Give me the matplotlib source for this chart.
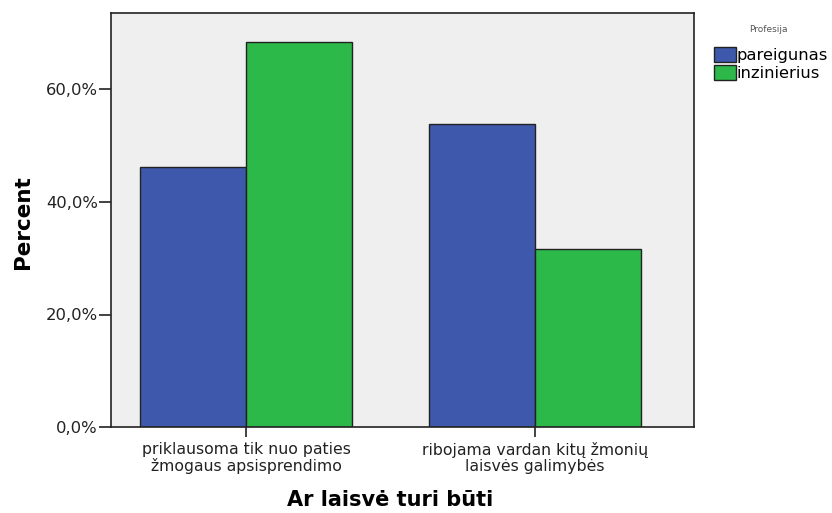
import numpy as np
import matplotlib
matplotlib.use('Agg')
import matplotlib.pyplot as plt
from matplotlib.patches import Patch

# data
categories = ['priklausoma tik nuo paties\nžmogaus apsisprendimo',
              'ribojama vardan kitų žmonių\nlaisvės galimybės']
pareigunas = [46.2, 53.8]
inzinierius = [68.4, 31.6]
yticks = [0, 20, 40, 60]
ytick_labels = ['0,0%', '20,0%', '40,0%', '60,0%']

blue = '#3E58AC'
green = '#2DB84A'
plt.rcParams['font.family'] = 'DejaVu Sans'

fig = plt.figure(figsize=(8.32, 5.13), dpi=100)
ax = fig.add_axes([111 / 832, 1 - 427 / 513, 583 / 832, 414 / 513])
ax.set_facecolor('#EFEFEF')

x = np.arange(len(categories))
w = 0.366
ax.bar(x - w / 2, pareigunas, w, color=blue, edgecolor='#222222', linewidth=1)
ax.bar(x + w / 2, inzinierius, w, color=green, edgecolor='#222222', linewidth=1)

ax.set_xlim(-0.467, 1.55)
ax.set_ylim(0, 73.6)
ax.set_xticks(x)
ax.set_xticklabels(categories, fontsize=11.3, linespacing=1.1)
ax.set_yticks(yticks)
ax.set_yticklabels(ytick_labels, fontsize=11.8)
ax.tick_params(axis='y', length=9, width=1.2, color='#222222', labelcolor='#222222', pad=0.5)
ax.tick_params(axis='x', length=7.5, width=1.2, color='#222222', labelcolor='#222222', pad=3)
for s in ax.spines.values():
    s.set_linewidth(1.2)
    s.set_color('#222222')

ax.set_xlabel('Ar laisvė turi būti', fontsize=15, fontweight='bold', va='baseline')
ax.xaxis.set_label_coords((390 - 111) / 583, -(506 - 427) / 414)
ax.set_ylabel('Percent', fontsize=15.5, fontweight='bold', va='center')
ax.yaxis.set_label_coords(-(111 - 23) / 583, 0.495)

fig.text(768 / 832, 1 - 29 / 513, 'Profesija', fontsize=6.5, color='#555555',
         ha='center', va='center')
handles = [Patch(facecolor=blue, edgecolor='#222222', label='pareigunas'),
           Patch(facecolor=green, edgecolor='#222222', label='inzinierius')]
fig.legend(handles=handles, loc='upper left', bbox_to_anchor=(714 / 832, 1 - 47 / 513),
           frameon=False, handlelength=1.32, handleheight=1.05,
           handletextpad=0.08, labelspacing=0.08, borderpad=0, borderaxespad=0,
           prop={'size': 11.8})

fig.savefig('out.png', dpi=100)
